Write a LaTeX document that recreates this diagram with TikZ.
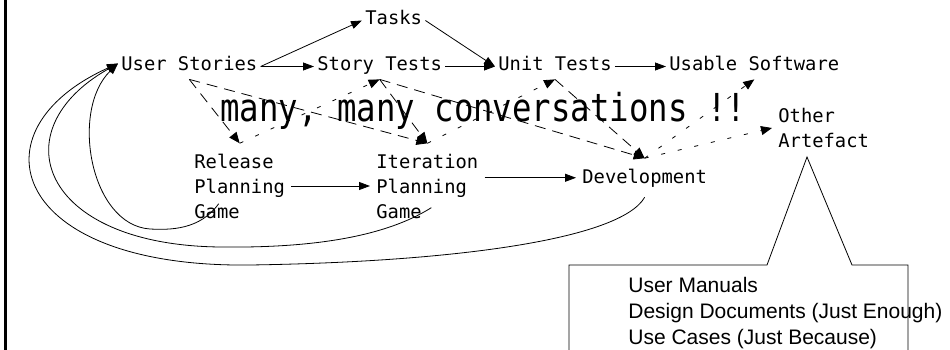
\documentclass[tikz,border=0pt]{standalone}
\usepackage{fontspec}
\usepackage{tikz}
\usetikzlibrary{arrows.meta}
\newfontfamily\lblfont{DejaVu Sans Mono}
\newfontfamily\convfont[FakeStretch=0.84]{DejaVu Sans Mono}
\newfontfamily\notefont{Liberation Sans}

\begin{document}
\begin{tikzpicture}[x=1pt, y=-1pt, line width=0.8pt,
  lbl/.style={font=\lblfont\fontsize{18.8}{25}\selectfont, inner sep=3pt,
    text height=14pt, text depth=5pt, anchor=base west},
  blk/.style={font=\lblfont\fontsize{18.8}{25}\selectfont, align=left,
    inner xsep=6pt, inner ysep=10pt, anchor=west},
  flow/.style={-{Triangle[length=11pt, width=8pt]}},
  talk/.style={-{Triangle[length=11pt, width=9pt]}, dash pattern=on 11pt off 7pt},
  hint/.style={-{Triangle[length=11pt, width=9pt]}, dash pattern=on 4pt off 13pt}]
  \useasboundingbox (0,0) rectangle (950,350);
  \draw[line width=2.5pt] (5.5,0) -- (5.5,350);

  \node[lbl] (tasks) at (362,25) {Tasks};
  \node[lbl] (us) at (118,71) {User Stories};
  \node[lbl] (st) at (314,71) {Story Tests};
  \node[lbl] (ut) at (495,71) {Unit Tests};
  \node[lbl] (usw) at (666,71) {Usable Software};
  \node[blk] (other) at (772,128) {Other\\Artefact};
  \node[blk] (rpg) at (188,186) {Release\\Planning\\Game};
  \node[blk] (ipg) at (370,186) {Iteration\\Planning\\Game};
  \node[blk, anchor=base west] (dev) at (576,183) {Development};
  \node[font=\convfont\fontsize{38.5}{40}\selectfont, anchor=base west,
    inner sep=0pt] (conv) at (220,122) {many, many conversations !!};
  \node[font=\notefont\fontsize{21}{26}\selectfont, align=left,
    anchor=north west, inner sep=0pt] (notes) at (628,277)
    {User Manuals\\Design Documents (Just Enough)\\Use Cases (Just Because)};

  \draw (569,350) -- (569,265) -- (767,265) -- (807,157) -- (852,265)
    -- (908,265) -- (908,350);

  \draw[flow] (us.east) -- (st.west);
  \draw[flow] (us.east) -- (tasks.west);
  \draw[flow] (tasks.east) -- (ut.west);
  \draw[flow] (st.east) -- (ut.west);
  \draw[flow] (ut.east) -- (usw.west);
  \draw[flow] (rpg.east) -- (ipg.west);
  \draw[flow] (ipg.east |- dev.west) -- (dev.west);

  \draw[talk] (us.south) -- (rpg.north);
  \draw[talk] (us.south) -- (ipg.north);
  \draw[hint] (rpg.north) -- (st.south);
  \draw[talk] (st.south) -- (ipg.north);
  \draw[talk] (st.south) -- (dev.north);
  \draw[hint] (ipg.north) -- (ut.south);
  \draw[talk] (ut.south) -- (dev.north);
  \draw[hint] (dev.north) -- (usw.south);
  \draw[hint] (dev.north) -- (other.west);

  \draw[flow] ([shift={(-21,-25)}]rpg.south) .. controls (200,230) and (170,230)
    .. (150,229) .. controls (90,225) and (70,110) .. ([yshift=3pt]us.west);
  \draw[flow] ([shift={(4,-21)}]ipg.south) .. controls (380,240) and (300,248)
    .. (220,247) .. controls (40,245) and (0,130) .. ([yshift=3pt]us.west);
  \draw[flow] (dev.south) .. controls (620,240) and (450,262)
    .. (250,265) .. controls (10,268) and (-30,130) .. ([yshift=3pt]us.west);
\end{tikzpicture}
\end{document}
